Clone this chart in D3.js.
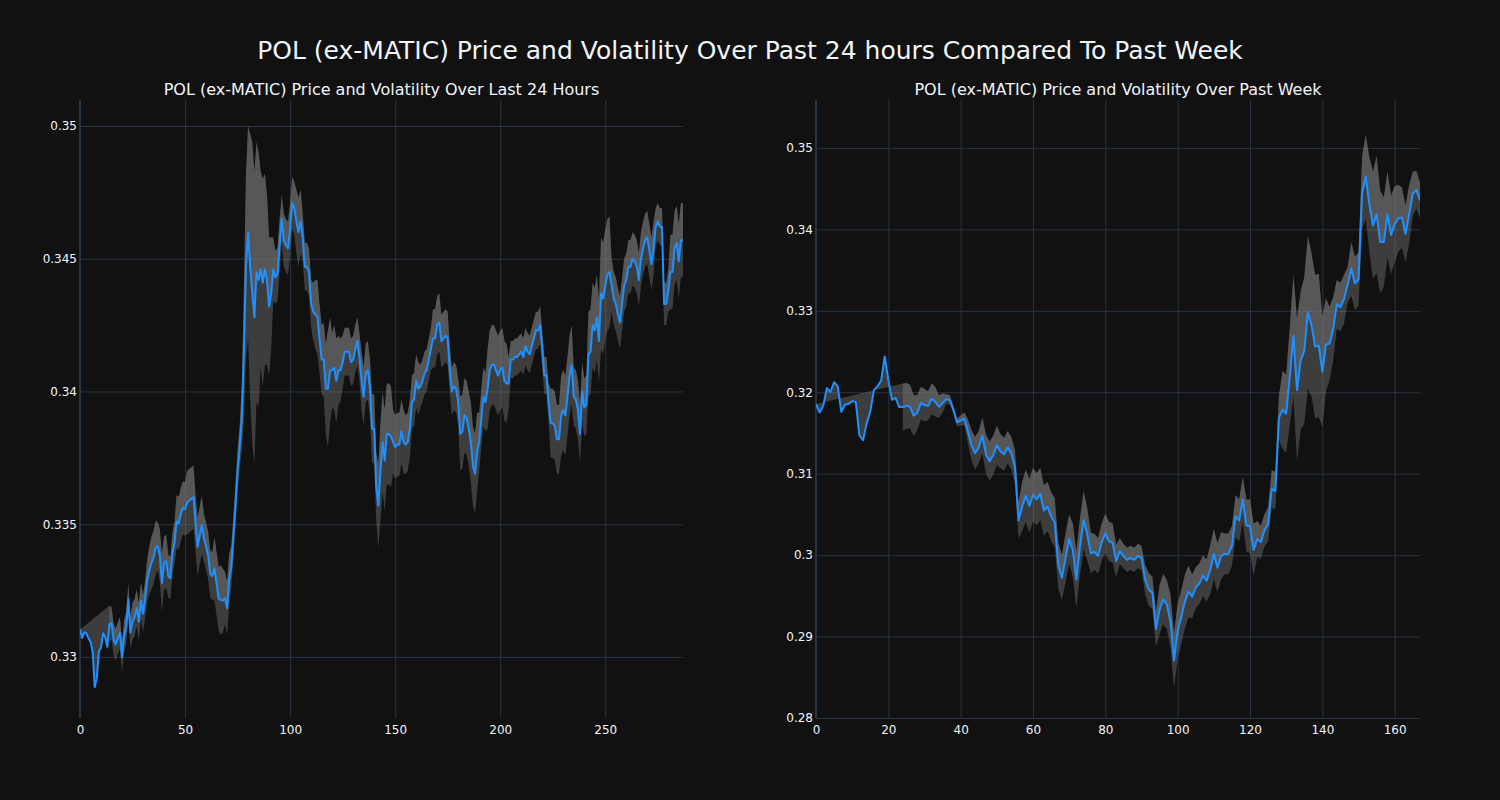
<!DOCTYPE html>
<html>
<head>
<meta charset="utf-8">
<script src="https://cdn.jsdelivr.net/npm/d3@7"></script>
<style>
html,body{margin:0;padding:0;background:#111111;}
svg{display:block;}
text{font-family:"DejaVu Sans", verdana, arial, sans-serif;fill:#f2f5fa;}
</style>
</head>
<body>
<svg id="chart" width="1500" height="800"></svg>
<script>
// ---------------- DATA ----------------
const mainTitle = "POL (ex-MATIC) Price and Volatility Over Past 24 hours Compared To Past Week";
const leftTitle = "POL (ex-MATIC) Price and Volatility Over Last 24 Hours";
const rightTitle = "POL (ex-MATIC) Price and Volatility Over Past Week";

// 24h price (5-min steps, index 0..287)
const dayPrice = [
0.33103,0.33071,0.33092,0.33090,0.33071,0.33057,0.33021,0.32886,0.32922,0.33021,
0.33035,0.33089,0.33075,0.33038,0.33123,0.33127,0.33064,0.33047,0.33070,0.33090,
0.33000,0.33078,0.33110,0.33217,0.33092,0.33134,0.33149,0.33184,0.33132,0.33212,
0.33163,0.33219,0.33290,0.33326,0.33354,0.33375,0.33411,0.33418,0.33382,0.33279,
0.33354,0.33361,0.33305,0.33297,0.33389,0.33432,0.33510,0.33503,0.33538,0.33562,
0.33557,0.33581,0.33588,0.33595,0.33602,0.33503,0.33415,0.33460,0.33496,0.33446,
0.33418,0.33382,0.33312,0.33305,0.33333,0.33276,0.33219,0.33215,0.33212,0.33222,
0.33184,0.33290,0.33340,0.33450,0.3357,0.3370,0.3379,0.3390,0.3414,0.3447,
0.3460,0.3447,0.3437,0.3428,0.3445,0.3442,0.3446,0.3441,0.3446,0.3442,
0.3432,0.3437,0.3446,0.3443,0.3444,0.3455,0.3465,0.3457,0.3455,0.3454,
0.3461,0.3471,0.3469,0.3464,0.3460,0.3464,0.3458,0.3447,0.3447,0.3445,
0.3433,0.3430,0.3429,0.3428,0.3420,0.3412,0.3412,0.3401,0.3401,0.3408,
0.3408,0.3409,0.3404,0.3408,0.3408,0.3411,0.3415,0.3415,0.3415,0.3411,
0.3412,0.3416,0.3419,0.3413,0.3404,0.3398,0.3407,0.3408,0.3401,0.3386,
0.3386,0.3364,0.3357,0.3370,0.3381,0.3374,0.3384,0.3384,0.3383,0.3381,
0.3379,0.3380,0.3380,0.3385,0.3381,0.3380,0.3381,0.3386,0.3396,0.3397,
0.3404,0.3401,0.3402,0.3404,0.3407,0.3408,0.3412,0.3416,0.3420,0.3420,
0.3425,0.3426,0.3419,0.3420,0.3421,0.3420,0.3408,0.3400,0.3402,0.3401,
0.3396,0.3384,0.3385,0.3391,0.3390,0.3386,0.3381,0.3372,0.3369,0.3377,
0.3381,0.3390,0.3398,0.3396,0.3401,0.3408,0.3410,0.3410,0.3408,0.3406,
0.3408,0.3409,0.3404,0.3403,0.3403,0.3412,0.3412,0.3413,0.3413,0.3414,
0.3415,0.3413,0.3417,0.3415,0.3414,0.3417,0.3420,0.3423,0.3423,0.3425,
0.3416,0.3406,0.3406,0.3396,0.3388,0.3388,0.3387,0.3382,0.3382,0.3391,
0.3393,0.3391,0.3398,0.3406,0.3410,0.3398,0.3397,0.3393,0.3384,0.3400,
0.3394,0.3395,0.3414,0.3415,0.3425,0.3423,0.3428,0.3419,0.3437,0.3435,
0.3440,0.3444,0.3445,0.3440,0.3435,0.3433,0.3429,0.3426,0.3433,0.3440,
0.3442,0.3447,0.3447,0.3450,0.3449,0.3447,0.3442,0.3450,0.3454,0.3457,
0.3458,0.3453,0.3448,0.3454,0.3462,0.3464,0.3462,0.3462,0.3433,0.3433,
0.3438,0.3445,0.3445,0.3454,0.3456,0.3449,0.3457,0.3457
];
// 24h rolling volatility (half band width), undefined for the first window
const dayVol = [
null,null,null,null,null,null,null,null,null,null,
null,null,null,null,0.0007,0.0006,0.0006,0.0006,0.0006,0.0006,
0.0006,0.0006,0.0006,0.0006,0.0006,0.0007,0.0007,0.0007,0.0007,0.0007,
0.0007,0.0007,0.0008,0.0009,0.0010,0.0010,0.0010,0.0009,0.0010,0.0011,
0.0010,0.0010,0.0008,0.0008,0.0008,0.0008,0.0010,0.0010,0.0010,0.0010,
0.0010,0.0012,0.0012,0.0012,0.0012,0.0011,0.0011,0.0011,0.0011,0.0009,
0.0009,0.0009,0.0009,0.0009,0.0012,0.0012,0.0012,0.0013,0.0012,0.0010,
0.0010,0.0010,0.0008,0.0008,0.0008,0.0008,0.0008,0.0012,0.0025,0.0035,
0.0040,0.0050,0.0057,0.0055,0.0049,0.0048,0.0037,0.0039,0.0036,0.0032,
0.0026,0.0021,0.0012,0.0010,0.0010,0.0010,0.0009,0.0010,0.0010,0.0010,
0.0010,0.0010,0.0010,0.0012,0.0013,0.0012,0.0009,0.0009,0.0009,0.0009,
0.0009,0.0011,0.0013,0.0014,0.0013,0.0013,0.0014,0.0017,0.0022,0.0020,
0.0014,0.0016,0.0016,0.0013,0.0012,0.0010,0.0009,0.0009,0.0009,0.0009,
0.0009,0.0009,0.0009,0.0009,0.0011,0.0011,0.0011,0.0011,0.0011,0.0013,
0.0013,0.0013,0.0016,0.0018,0.0019,0.0019,0.0019,0.0019,0.0019,0.0012,
0.0012,0.0012,0.0012,0.0012,0.0012,0.0011,0.0011,0.0011,0.0010,0.0010,
0.0010,0.0010,0.0008,0.0008,0.0008,0.0008,0.0008,0.0008,0.0011,0.0011,
0.0011,0.0011,0.0010,0.0010,0.0010,0.0010,0.0009,0.0009,0.0009,0.0009,
0.0009,0.0014,0.0014,0.0014,0.0014,0.0014,0.0015,0.0015,0.0015,0.0015,
0.0011,0.0011,0.0011,0.0011,0.0015,0.0015,0.0015,0.0015,0.0015,0.0015,
0.0015,0.0015,0.0015,0.0015,0.0010,0.0007,0.0007,0.0007,0.0007,0.0007,
0.0007,0.0007,0.0007,0.0007,0.0007,0.0007,0.0007,0.0007,0.0007,0.0007,
0.0007,0.0007,0.0007,0.0007,0.0013,0.0013,0.0013,0.0013,0.0013,0.0015,
0.0015,0.0015,0.0015,0.0015,0.0015,0.0011,0.0011,0.0011,0.0011,0.0011,
0.0011,0.0011,0.0016,0.0016,0.0016,0.0016,0.0016,0.0016,0.0021,0.0021,
0.0021,0.0021,0.0021,0.0010,0.0010,0.0010,0.0010,0.0010,0.0010,0.0010,
0.0010,0.0010,0.0010,0.0010,0.0010,0.0010,0.0010,0.0010,0.0010,0.0010,
0.0010,0.0010,0.0010,0.0010,0.0007,0.0007,0.0007,0.0007,0.0008,0.0008,
0.0008,0.0014,0.0014,0.0014,0.0014,0.0014,0.0014,0.0014
];

// week price (hourly, index 0..167)
const weekPrice = [
0.31857,0.31751,0.31833,0.32051,0.32003,0.32124,0.32076,0.31760,0.31848,0.31857,
0.31891,0.31882,0.31469,0.31411,0.31615,0.31760,0.32027,0.32076,0.32139,0.32439,
0.32149,0.31906,0.31930,0.31818,0.31818,0.31833,0.31823,0.31712,0.31746,0.31867,
0.31843,0.31833,0.31920,0.31882,0.31823,0.31867,0.31916,0.31906,0.31785,0.31629,
0.31654,0.31673,0.31518,0.31348,0.31251,0.31324,0.31469,0.31237,0.31154,0.31227,
0.31348,0.31276,0.31237,0.31324,0.31251,0.31082,0.30427,0.30597,0.30727,0.30606,
0.30742,0.30684,0.30752,0.30548,0.30597,0.30475,0.30402,0.29869,0.29723,0.29966,
0.30199,0.30063,0.29699,0.30112,0.30427,0.30257,0.30024,0.30039,0.29990,0.30160,
0.30267,0.30170,0.30150,0.29927,0.30048,0.29990,0.29942,0.29966,0.29942,0.29990,
0.29966,0.29699,0.29578,0.29539,0.29093,0.29336,0.29457,0.29394,0.29190,0.28705,
0.29069,0.29239,0.29433,0.29554,0.29491,0.29602,0.29651,0.29748,0.29685,0.29821,
0.30015,0.29845,0.29990,0.30015,0.30015,0.30112,0.30475,0.30427,0.30684,0.30364,
0.30354,0.30063,0.30199,0.30160,0.30305,0.30378,0.30815,0.30790,0.31688,0.31785,
0.31736,0.32197,0.32692,0.32027,0.32391,0.32512,0.32983,0.32827,0.32561,0.32575,
0.32255,0.32585,0.32599,0.32779,0.33080,0.33046,0.33143,0.33322,0.33516,0.33337,
0.33385,0.34452,0.34646,0.34307,0.34049,0.34185,0.33846,0.33846,0.34185,0.33933,
0.34064,0.34137,0.34146,0.33943,0.34185,0.34437,0.34486,0.34355
];
const weekVol = [
null,null,null,null,null,null,null,null,null,null,
null,null,null,null,null,null,null,null,null,null,
null,null,null,null,0.0029,0.0028,0.0027,0.0025,0.0022,0.0020,
0.0020,0.0018,0.0019,0.0018,0.0014,0.0012,0.0006,0.0006,0.0004,0.0005,
0.0006,0.0008,0.0015,0.0019,0.0020,0.0020,0.0022,0.0024,0.0024,0.0024,
0.0024,0.0021,0.0020,0.0020,0.0020,0.0021,0.0022,0.0030,0.0032,0.0033,
0.0033,0.0032,0.0032,0.0031,0.0030,0.0030,0.0030,0.0028,0.0028,0.0030,
0.0030,0.0033,0.0035,0.0035,0.0036,0.0032,0.0025,0.0022,0.0022,0.0023,
0.0024,0.0024,0.0024,0.0020,0.0016,0.0015,0.0015,0.0015,0.0015,0.0015,
0.0015,0.0018,0.0020,0.0020,0.0022,0.0030,0.0031,0.0030,0.0033,0.0034,
0.0034,0.0033,0.0033,0.0032,0.0027,0.0025,0.0025,0.0025,0.0026,0.0030,
0.0031,0.0030,0.0029,0.0025,0.0025,0.0025,0.0026,0.0026,0.0028,0.0032,
0.0033,0.0032,0.0022,0.0020,0.0020,0.0021,0.0023,0.0023,0.0027,0.0048,
0.0048,0.0060,0.0075,0.0088,0.0085,0.0090,0.0094,0.0088,0.0088,0.0088,
0.0068,0.0057,0.0045,0.0039,0.0030,0.0030,0.0030,0.0022,0.0033,0.0033,
0.0033,0.0045,0.0052,0.0058,0.0066,0.0072,0.0063,0.0055,0.0053,0.0048,
0.0047,0.0041,0.0037,0.0035,0.0036,0.0027,0.0023,0.0022
];

const dayXTicks = [0, 50, 100, 150, 200, 250];
const dayYTicks = [0.33, 0.335, 0.34, 0.345, 0.35];
const weekXTicks = [0, 20, 40, 60, 80, 100, 120, 140, 160];
const weekYTicks = [0.28, 0.29, 0.30, 0.31, 0.32, 0.33, 0.34, 0.35];

// ---------------- DRAW ----------------
const svg = d3.select("#chart");
svg.append("rect").attr("width", 1500).attr("height", 800).attr("fill", "#111111");

svg.append("text").attr("x", 750).attr("y", 59).attr("text-anchor", "middle")
  .style("font-size", "25px").text(mainTitle);

const gridColor = "#283442";

function panel(opts) {
  const {left, right, top, bottom, xDomain, yDomain, xTicks, yTicks, price, vol, title} = opts;
  const x = d3.scaleLinear().domain(xDomain).range([left, right]);
  const y = d3.scaleLinear().domain(yDomain).range([bottom, top]);
  const g = svg.append("g");

  // subplot title
  svg.append("text").attr("x", (left + right) / 2).attr("y", top - 5)
    .attr("text-anchor", "middle").style("font-size", "16px").text(title);

  // grid lines
  const gx = g.append("g").attr("transform", `translate(0,${bottom})`)
    .call(d3.axisBottom(x).tickValues(xTicks).tickSize(-(bottom - top)).tickFormat(d3.format("d")));
  gx.select(".domain").remove();
  gx.selectAll("line").attr("stroke", gridColor).attr("stroke-width", 1);
  gx.selectAll("text").attr("dy", "1.05em").attr("fill", "#f2f5fa").style("font-size", "12px");

  const fmt = v => String(+v.toFixed(3));
  const gy = g.append("g").attr("transform", `translate(${left},0)`)
    .call(d3.axisLeft(y).tickValues(yTicks).tickSize(-(right - left)).tickPadding(3).tickFormat(fmt));
  gy.select(".domain").remove();
  gy.selectAll("line").attr("stroke", gridColor).attr("stroke-width", 1);
  gy.selectAll("text").attr("fill", "#f2f5fa").style("font-size", "12px");

  // zero line at x=0
  g.append("line").attr("x1", x(0)).attr("x2", x(0)).attr("y1", top).attr("y2", bottom)
    .attr("stroke", gridColor).attr("stroke-width", 2);

  const pricePts = price.map((v, i) => [i, v]);
  const upperPts = [], lowerPts = [];
  price.forEach((v, i) => {
    if (vol[i] != null) { upperPts.push([i, v + vol[i]]); lowerPts.push([i, v - vol[i]]); }
  });
  const line = d3.line().x(d => x(d[0])).y(d => y(d[1]));
  const clipId = "clip" + left;
  svg.append("clipPath").attr("id", clipId).append("rect")
    .attr("x", left).attr("y", top).attr("width", right - left).attr("height", bottom - top);
  const pg = g.append("g").attr("clip-path", `url(#${clipId})`);

  // fill between price and upper band (closing edge joins the first upper point to price start)
  pg.append("path").attr("d", line(pricePts.concat(upperPts.slice().reverse())) + "Z")
    .attr("fill", "rgba(128,128,128,0.4)").attr("stroke", "none");
  // fill between upper and lower band
  pg.append("path").attr("d", line(upperPts.concat(lowerPts.slice().reverse())) + "Z")
    .attr("fill", "rgba(128,128,128,0.4)").attr("stroke", "none");
  // price line
  pg.append("path").attr("d", line(pricePts)).attr("fill", "none")
    .attr("stroke", "#1e90ff").attr("stroke-width", 2).attr("stroke-linejoin", "round");
}

panel({left: 80, right: 683, top: 100, bottom: 718, xDomain: [0, 287], yDomain: [0.32770, 0.35098],
  xTicks: dayXTicks, yTicks: dayYTicks, price: dayPrice, vol: dayVol, title: leftTitle});
panel({left: 816, right: 1420, top: 100, bottom: 718, xDomain: [0, 167], yDomain: [0.2800, 0.35589],
  xTicks: weekXTicks, yTicks: weekYTicks, price: weekPrice, vol: weekVol, title: rightTitle});
</script>
</body>
</html>
